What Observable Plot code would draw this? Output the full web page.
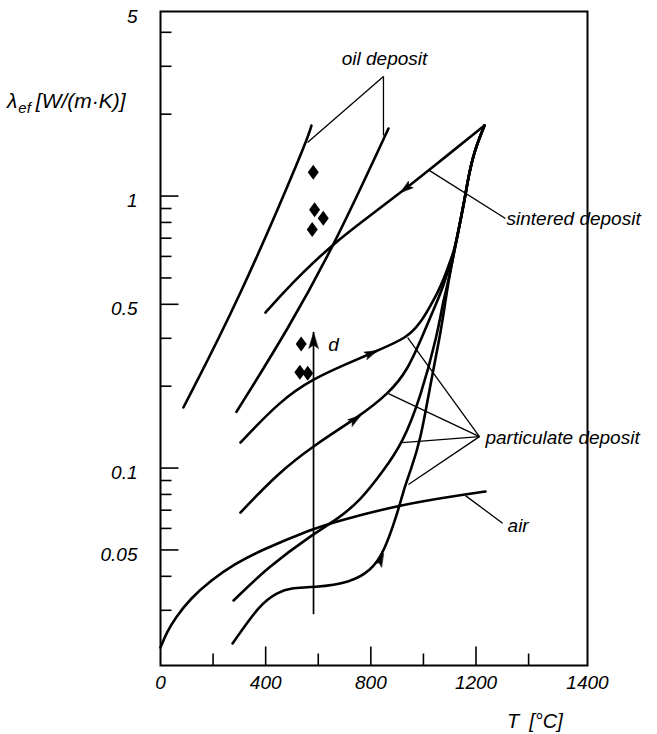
<!DOCTYPE html>
<html>
<head>
<meta charset="utf-8">
<script src="https://cdn.jsdelivr.net/npm/d3@7"></script>
<script src="https://cdn.jsdelivr.net/npm/@observablehq/plot@0.6"></script>
<style>
  html, body { margin: 0; padding: 0; background: #fff; }
  #chart { width: 657px; height: 734px; }
</style>
</head>
<body>
<div id="chart"></div>
<script>
// ---------------- data ----------------
// axis ticks
const xMajorTicks = [400, 800, 1200];
const xMinorTicks = [200, 600, 1000, 1400];
const xTickLabels = ["0", "400", "800", "1200", "1400"];
const xTickLabelAt = [0, 400, 800, 1200, 1624];
const yMajorTicks = [1, 0.4, 0.1, 0.05];
const yMinorTicks = [4, 3, 2, 0.9, 0.8, 0.7, 0.6, 0.5, 0.3, 0.2, 0.09, 0.08, 0.07, 0.06, 0.04, 0.03];
const yTickLabels = ["5", "1", "0.5", "0.1", "0.05"];
const yTickLabelAt = [4.77, 1, 0.4, 0.1, 0.05];
const xDomain = [0, 1624];
const yDomain = [0.0188, 4.77];

// oil deposit (two bounding lines)
const oilLeftT = [87, 297, 555, 574];
const oilLeftL = [0.167, 0.413, 1.573, 1.816];
const oilRightT = [289, 487, 666, 867];
const oilRightL = [0.161, 0.326, 0.675, 1.771];

// sintered deposit
const sinteredT = [399, 468, 533, 658, 787, 913, 1019, 1232];
const sinteredL = [0.373, 0.4417, 0.5144, 0.669, 0.8335, 1.030, 1.241, 1.816];

// particulate deposit curves
const p1T = [304, 456, 582, 711, 825, 940, 989, 1023, 1054, 1080, 1099, 1118, 1137, 1156, 1172, 1194, 1232];
const p1L = [0.1241, 0.1771, 0.2134, 0.2422, 0.2704, 0.3018, 0.3427, 0.3891, 0.4417, 0.5016, 0.5694, 0.6305, 0.7790, 0.9626, 1.1895, 1.470, 1.816];
const p2T = [304, 445, 582, 761, 867, 940, 1000, 1054, 1080, 1099, 1118, 1137, 1156, 1172, 1194, 1232];
const p2L = [0.0686, 0.0954, 0.1210, 0.156, 0.1879, 0.2283, 0.3122, 0.4128, 0.4808, 0.5552, 0.6305, 0.7790, 0.9626, 1.1895, 1.470, 1.816];
const p3T = [278, 407, 582, 666, 761, 848, 920, 989, 1054, 1073, 1088, 1099, 1118, 1137, 1156, 1172, 1194, 1232];
const p3L = [0.0326, 0.0431, 0.0574, 0.0641, 0.0760, 0.0979, 0.1231, 0.1816, 0.3122, 0.4025, 0.4570, 0.5102, 0.6305, 0.7790, 0.9626, 1.1895, 1.470, 1.816];
const p4T = [274, 380, 445, 494, 582, 723, 799, 848, 901, 924, 951, 989, 1027, 1065, 1084, 1099, 1118, 1137, 1156, 1172, 1194, 1232];
const p4L = [0.02264, 0.03176, 0.03485, 0.03636, 0.03636, 0.03794, 0.04198, 0.04849, 0.06803, 0.08267, 0.0979, 0.1262, 0.2045, 0.3122, 0.4128, 0.5102, 0.6305, 0.7790, 0.9626, 1.1895, 1.470, 1.816];

// air
const airT = [0, 23, 57, 114, 190, 285, 380, 582, 666, 913, 1153, 1236];
const airL = [0.02188, 0.02484, 0.02821, 0.03312, 0.03859, 0.04456, 0.04974, 0.05993, 0.06357, 0.07341, 0.07991, 0.08196];

// measured points (diamonds)
const diamondT = [581, 586, 619, 577, 535, 530, 560];
const diamondL = [1.223, 0.890, 0.829, 0.753, 0.286, 0.225, 0.223];

// "d" arrow
const dArrowT = [582, 582];
const dArrowL = [0.0292, 0.3149];

// direction arrows on curves: curve name, point index, reversed direction
const arrowCurve = ["sintered", "p1", "p2", "p4"];
const arrowIndex = [5, 4, 3, 7];
const arrowReverse = [true, false, false, false];

// annotation labels
const annoText = ["oil deposit", "sintered deposit", "particulate deposit", "air", "d"];
const annoT = [852, 1316, 1236, 1320, 658];
const annoL = [3.203, 0.8265, 0.1294, 0.0614, 0.2845];
const annoAnchor = ["middle", "start", "start", "start", "middle"];

// leader lines [T1, L1] -> [T2, L2]
const leaderT1 = [848, 848, 1019, 1213, 1213, 1213, 1213, 1160];
const leaderL1 = [2.75, 2.75, 1.248, 0.1305, 0.1305, 0.1305, 0.1305, 0.0792];
const leaderT2 = [559, 848, 1312, 940, 867, 920, 943, 1301];
const leaderL2 = [1.573, 1.669, 0.8265, 0.3018, 0.1879, 0.1241, 0.0870, 0.0627];

// ---------------- build tables ----------------
const W = 657, H = 734;
const margin = {top: 11, right: 70, bottom: 69, left: 160};

const curveDefs = {
  oilLeft: [oilLeftT, oilLeftL],
  oilRight: [oilRightT, oilRightL],
  sintered: [sinteredT, sinteredL],
  p1: [p1T, p1L],
  p2: [p2T, p2L],
  p3: [p3T, p3L],
  p4: [p4T, p4L],
  air: [airT, airL]
};
const curvePts = {};
const curveRows = [];
for (const [name, [Ts, Ls]] of Object.entries(curveDefs)) {
  curvePts[name] = Ts.map((t, i) => ({T: t, L: Ls[i], name}));
  curveRows.push(...curvePts[name]);
}

const xs = Plot.scale({x: {domain: xDomain, range: [margin.left, W - margin.right]}});
const ys = Plot.scale({y: {type: "log", domain: yDomain, range: [H - margin.bottom, margin.top]}});

const arrows = arrowCurve.map((c, k) => {
  const pts = curvePts[c];
  const i = arrowIndex[k];
  const a = pts[i - 1], b = pts[i + 1];
  let dx = xs.apply(b.T) - xs.apply(a.T);
  let dy = ys.apply(b.L) - ys.apply(a.L);
  if (arrowReverse[k]) { dx = -dx; dy = -dy; }
  return {T: pts[i].T, L: pts[i].L, rot: Math.atan2(dx, -dy) * 180 / Math.PI};
});

const diamonds = diamondT.map((t, i) => ({T: t, L: diamondL[i]}));
const annos = annoText.map((s, i) => ({text: s, T: annoT[i], L: annoL[i], anchor: annoAnchor[i]}));
const leaders = leaderT1.map((t, i) => ({T1: t, L1: leaderL1[i], T2: leaderT2[i], L2: leaderL2[i]}));
const xLabels = xTickLabelAt.map((v, i) => ({v, s: xTickLabels[i]}));
const yLabels = yTickLabelAt.map((v, i) => ({v, s: yTickLabels[i]}));

const tickShape = {draw(ctx, l) { ctx.moveTo(0, 0); ctx.lineTo(0, -l); }};
const headShape = {draw(ctx, l) {
  const w = l * 0.3;
  ctx.moveTo(0, -l); ctx.lineTo(-w, 0); ctx.lineTo(0, -l * 0.22); ctx.lineTo(w, 0); ctx.closePath();
}};
const diamondSymbol = {draw(ctx) {
  ctx.moveTo(0, -7.5); ctx.lineTo(5.5, 0); ctx.lineTo(0, 7.5); ctx.lineTo(-5.5, 0); ctx.closePath();
}};

const FONT = "'Liberation Sans', Arial, Helvetica, sans-serif";

const svg = Plot.plot({
  width: W,
  height: H,
  marginTop: margin.top,
  marginRight: margin.right,
  marginBottom: margin.bottom,
  marginLeft: margin.left,
  style: {fontFamily: FONT, fontSize: "19px", color: "black", background: "white"},
  x: {domain: xDomain, axis: null},
  y: {type: "log", domain: yDomain, axis: null},
  marks: [
    // ticks (inward)
    Plot.vector(xMajorTicks, {x: d => d, frameAnchor: "bottom", length: 19, rotate: 0, anchor: "start", shape: tickShape, stroke: "black", strokeWidth: 1.6, strokeLinecap: "butt"}),
    Plot.vector(xMinorTicks, {x: d => d, frameAnchor: "bottom", length: 12, rotate: 0, anchor: "start", shape: tickShape, stroke: "black", strokeWidth: 1.6, strokeLinecap: "butt"}),
    Plot.vector(yMajorTicks, {y: d => d, frameAnchor: "left", length: 18, rotate: 90, anchor: "start", shape: tickShape, stroke: "black", strokeWidth: 1.6, strokeLinecap: "butt"}),
    Plot.vector(yMinorTicks, {y: d => d, frameAnchor: "left", length: 11, rotate: 90, anchor: "start", shape: tickShape, stroke: "black", strokeWidth: 1.6, strokeLinecap: "butt"}),
    // tick labels
    Plot.text(xLabels, {x: "v", text: "s", frameAnchor: "bottom", dy: 23, fontStyle: "italic", fontSize: 19, fill: "black"}),
    Plot.text(yLabels, {y: "v", text: "s", frameAnchor: "left", dx: -23, dy: 5, textAnchor: "end", fontStyle: "italic", fontSize: 19, fill: "black"}),
    // leader lines
    Plot.link(leaders, {x1: "T1", y1: "L1", x2: "T2", y2: "L2", stroke: "black", strokeWidth: 1.3}),
    // d arrow
    Plot.line(dArrowT.map((t, i) => ({T: t, L: dArrowL[i]})), {x: "T", y: "L", stroke: "black", strokeWidth: 1.7}),
    Plot.vector([{T: dArrowT[1], L: dArrowL[1]}], {x: "T", y: "L", rotate: 0, length: 16, anchor: "end", shape: headShape, fill: "black", stroke: "black", strokeWidth: 0.5}),
    // curves
    Plot.line(curveRows, {x: "T", y: "L", z: "name", curve: "basis", stroke: "black", strokeWidth: 2.6}),
    // direction arrows
    Plot.vector(arrows, {x: "T", y: "L", rotate: "rot", length: 13, anchor: "end", shape: headShape, fill: "black", stroke: "black", strokeWidth: 0.6}),
    // measured points
    Plot.dot(diamonds, {x: "T", y: "L", symbol: diamondSymbol, r: 6, fill: "black", stroke: "none"}),
    // annotations
    Plot.text(annos.filter(d => d.anchor === "middle"), {x: "T", y: "L", text: "text", textAnchor: "middle", fontStyle: "italic", fontSize: 19, fill: "black"}),
    Plot.text(annos.filter(d => d.anchor === "start"), {x: "T", y: "L", text: "text", textAnchor: "start", fontStyle: "italic", fontSize: 19, fill: "black"}),
    // frame
    Plot.frame({stroke: "black", strokeWidth: 2})
  ]
});

// axis titles (with subscript)
const s = d3.select(svg);
const yt = s.append("text")
  .attr("x", 7).attr("y", 108).attr("text-anchor", "start")
  .attr("font-family", FONT).attr("font-style", "italic").attr("fill", "black")
  .attr("font-size", 21);
yt.append("tspan").text("λ");
yt.append("tspan").attr("font-size", 15).attr("dy", 5).attr("dx", 1).text("ef");
yt.append("tspan").attr("dy", -5).attr("dx", 5).text("[W/(m·K)]");

const xt = s.append("text")
  .attr("x", 507).attr("y", 728).attr("text-anchor", "start")
  .attr("font-family", FONT).attr("font-style", "italic").attr("fill", "black")
  .attr("font-size", 20);
xt.append("tspan").text("T");
xt.append("tspan").attr("dx", 10).text("[°C]");

document.getElementById("chart").appendChild(svg);
</script>
</body>
</html>
